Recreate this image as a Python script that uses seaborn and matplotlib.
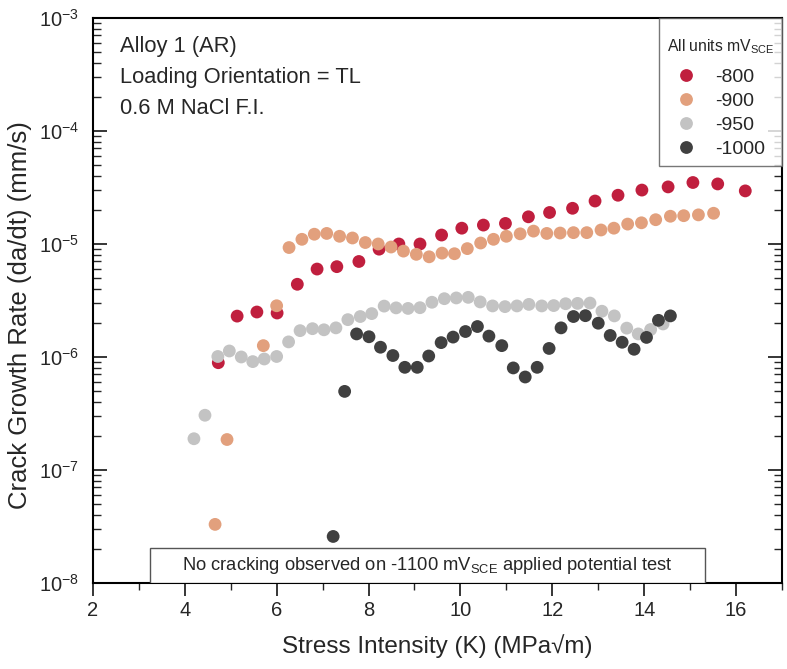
import numpy as np
import pandas as pd
import matplotlib
matplotlib.use("Agg")
import matplotlib.pyplot as plt
import seaborn as sns
from matplotlib.ticker import LogLocator, MultipleLocator, NullFormatter
from matplotlib.patches import Rectangle

# ---- data ----
k_800 = [4.73, 5.14, 5.57, 6.01, 6.45, 6.88, 7.31, 7.79, 8.23, 8.66, 9.12, 9.59, 10.03,
         10.50, 10.98, 11.48, 11.94, 12.44, 12.93, 13.43, 13.95, 14.52, 15.06, 15.60, 16.20]
r_800 = [8.9e-7, 2.3e-6, 2.5e-6, 2.45e-6, 4.4e-6, 6.0e-6, 6.3e-6, 7.0e-6, 9.0e-6, 1.0e-5,
         1.0e-5, 1.2e-5, 1.38e-5, 1.47e-5, 1.52e-5, 1.74e-5, 1.9e-5, 2.07e-5, 2.4e-5, 2.7e-5,
         3.0e-5, 3.2e-5, 3.5e-5, 3.4e-5, 2.95e-5]

k_900 = [4.66, 4.92, 5.71, 6.00, 6.27, 6.55, 6.82, 7.09, 7.37, 7.65, 7.93, 8.21, 8.49, 8.76,
         9.04, 9.32, 9.60, 9.87, 10.15, 10.44, 10.72, 11.00, 11.30, 11.59, 11.88, 12.17,
         12.46, 12.75, 13.06, 13.34, 13.64, 13.94, 14.25, 14.57, 14.86, 15.18, 15.51]
r_900 = [3.3e-8, 1.86e-7, 1.26e-6, 2.84e-6, 9.3e-6, 1.1e-5, 1.22e-5, 1.24e-5, 1.17e-5,
         1.13e-5, 1.03e-5, 1.0e-5, 9.4e-6, 8.65e-6, 8.1e-6, 7.7e-6, 8.3e-6, 8.2e-6, 9.1e-6,
         1.02e-5, 1.1e-5, 1.17e-5, 1.23e-5, 1.3e-5, 1.24e-5, 1.25e-5, 1.26e-5, 1.26e-5,
         1.33e-5, 1.38e-5, 1.5e-5, 1.54e-5, 1.64e-5, 1.76e-5, 1.78e-5, 1.81e-5, 1.87e-5]

k_950 = [4.20, 4.44, 4.72, 4.97, 5.23, 5.48, 5.73, 6.00, 6.26, 6.51, 6.78, 7.03, 7.29, 7.55,
         7.82, 8.07, 8.34, 8.60, 8.86, 9.12, 9.38, 9.65, 9.91, 10.17, 10.43, 10.70, 10.97,
         11.23, 11.49, 11.77, 12.03, 12.29, 12.55, 12.82, 13.08, 13.35, 13.62, 13.87,
         14.14, 14.41]
r_950 = [1.89e-7, 3.05e-7, 1.01e-6, 1.13e-6, 1.0e-6, 9.1e-7, 9.6e-7, 1.01e-6, 1.36e-6,
         1.71e-6, 1.78e-6, 1.74e-6, 1.81e-6, 2.14e-6, 2.28e-6, 2.42e-6, 2.82e-6, 2.72e-6,
         2.69e-6, 2.73e-6, 3.05e-6, 3.28e-6, 3.33e-6, 3.37e-6, 3.07e-6, 2.83e-6, 2.79e-6,
         2.83e-6, 2.92e-6, 2.83e-6, 2.85e-6, 2.96e-6, 2.98e-6, 3.0e-6, 2.54e-6, 2.31e-6,
         1.8e-6, 1.6e-6, 1.75e-6, 1.96e-6]

k_1000 = [7.23, 7.48, 7.74, 8.01, 8.26, 8.53, 8.79, 9.06, 9.31, 9.58, 9.84, 10.11, 10.37,
          10.62, 10.90, 11.15, 11.41, 11.67, 11.93, 12.19, 12.46, 12.72, 13.00, 13.26,
          13.52, 13.78, 14.05, 14.31, 14.57]
r_1000 = [2.58e-8, 4.96e-7, 1.6e-6, 1.51e-6, 1.22e-6, 1.03e-6, 8.1e-7, 8.1e-7, 1.02e-6,
          1.34e-6, 1.5e-6, 1.68e-6, 1.86e-6, 1.53e-6, 1.26e-6, 8.0e-7, 6.65e-7, 8.1e-7,
          1.19e-6, 1.81e-6, 2.28e-6, 2.32e-6, 1.99e-6, 1.55e-6, 1.35e-6, 1.17e-6, 1.49e-6,
          2.11e-6, 2.31e-6]

series_labels = ["-800", "-900", "-950", "-1000"]
colors = ["#C01F3E", "#E2A07D", "#C3C3C3", "#404040"]

frames = []
for lab, k, r in zip(series_labels, [k_800, k_900, k_950, k_1000], [r_800, r_900, r_950, r_1000]):
    frames.append(pd.DataFrame({"K": k, "rate": r, "potential": lab}))
df = pd.concat(frames, ignore_index=True)

# ---- plot ----
sns.set_style("ticks")
plt.rcParams["font.family"] = ["Liberation Sans", "DejaVu Sans"]
plt.rcParams["mathtext.fontset"] = "custom"
plt.rcParams["mathtext.rm"] = "Liberation Sans"
plt.rcParams["mathtext.it"] = "Liberation Sans:italic"
plt.rcParams["mathtext.default"] = "regular"

fig = plt.figure(figsize=(7.87, 6.69), dpi=100)
ax = fig.add_axes([0.118, 0.1286, 0.8757, 0.8445])

sns.scatterplot(data=df, x="K", y="rate", hue="potential", hue_order=series_labels,
                palette=colors, s=85, edgecolor="none", linewidth=0, ax=ax, legend=True)

ax.set_yscale("log")
ax.set_xlim(2, 17)
ax.set_ylim(1e-8, 1e-3)
ax.xaxis.set_major_locator(MultipleLocator(2))
ax.xaxis.set_minor_locator(MultipleLocator(1))
ax.yaxis.set_major_locator(LogLocator(base=10, numticks=10))
ax.yaxis.set_minor_locator(LogLocator(base=10, subs=np.arange(2, 10), numticks=20))
ax.yaxis.set_minor_formatter(NullFormatter())

for sp in ax.spines.values():
    sp.set_visible(True)
    sp.set_linewidth(1.5)
    sp.set_color("black")

ax.tick_params(axis="x", which="major", direction="out", length=9, width=1.3,
               labelsize=14.5, bottom=True, top=False, pad=4)
ax.tick_params(axis="x", which="minor", direction="out", length=5, width=1.0,
               bottom=True, top=False)
ax.tick_params(axis="y", which="major", direction="in", length=10, width=1.3,
               labelsize=14.5, left=True, right=True, pad=10)
ax.tick_params(axis="y", which="minor", direction="in", length=6, width=1.0,
               left=True, right=True)

ax.set_xlabel("Stress Intensity (K) (MPa\u221am)", fontsize=17.5, labelpad=10)
ax.set_ylabel("Crack Growth Rate (da/dt) (mm/s)", fontsize=18.5)
ax.yaxis.set_label_coords(-0.088, 0.474)

ax.text(0.04, 0.968, "Alloy 1 (AR)\nLoading Orientation = TL\n0.6 M NaCl F.I.",
        transform=ax.transAxes, ha="left", va="top", fontsize=15.75, linespacing=1.62)

handles, labels = ax.get_legend_handles_labels()
leg = ax.legend(handles, labels, title="\nAll units mV$_{SCE}$", loc="upper right",
                bbox_to_anchor=(1.0, 1.0), borderaxespad=0, frameon=True, fancybox=False,
                fontsize=14, title_fontsize=11.3, markerscale=1.0, handletextpad=1.0,
                handlelength=1.0, labelspacing=0.33, borderpad=0.4)
leg.get_title().set_linespacing(0.75)
leg.get_frame().set_edgecolor("#555555")
leg.get_frame().set_linewidth(1.0)
leg._legend_box.sep = 9

box = Rectangle((0.083, 0.0), 0.805, 0.062, transform=ax.transAxes, facecolor="white",
                edgecolor="#555555", linewidth=1.0, zorder=5)
ax.add_patch(box)
ax.text(0.4855, 0.031, "No cracking observed on -1100 mV$_{SCE}$ applied potential test",
        transform=ax.transAxes, ha="center", va="center", fontsize=13.2, zorder=6)

fig.savefig("out.png", dpi=100)
